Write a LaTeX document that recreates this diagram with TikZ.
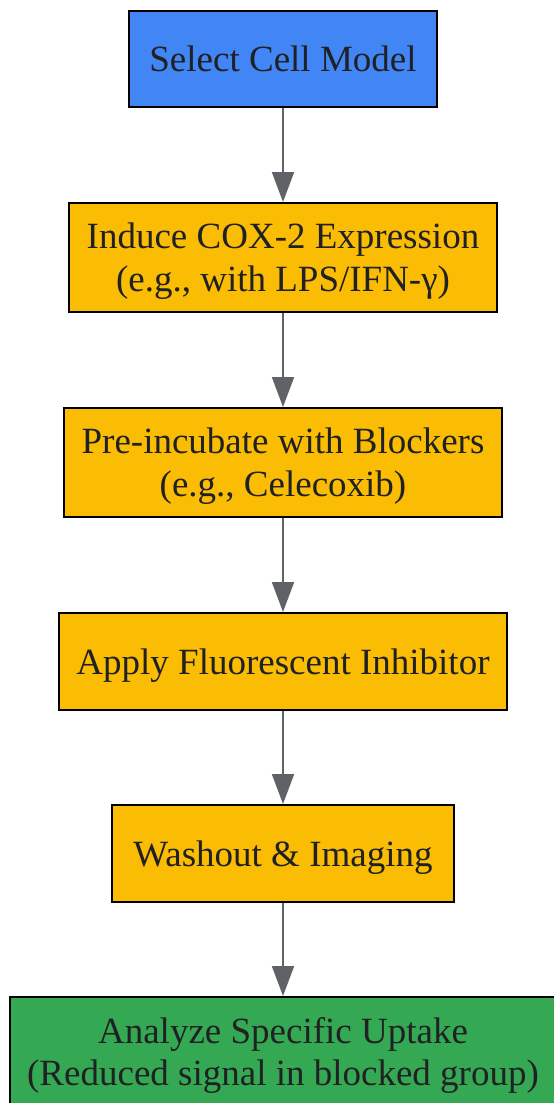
\documentclass[tikz,border=0pt]{standalone}
\usepackage{fontspec}
\setmainfont{Liberation Serif}
\usetikzlibrary{arrows.meta}
\definecolor{gblue}{HTML}{4285F4}
\definecolor{gyellow}{HTML}{FBBC04}
\definecolor{ggreen}{HTML}{34A853}
\definecolor{gtext}{HTML}{202124}
\definecolor{garrow}{HTML}{5F6368}
\newcommand{\sx}{\rule[-8.1pt]{0pt}{41.3pt}}
\tikzset{
  stepbox/.style={draw=black, line width=2pt, inner sep=0pt, align=center,
    text=gtext, font=\fontsize{37}{42.5}\selectfont},
  flow/.style={draw=garrow, line width=2pt, -{Triangle[length=30pt,width=22pt]}}
}
\begin{document}
\begin{tikzpicture}[x=1pt,y=-1pt]
\useasboundingbox (0,0) rectangle (554,1103);
\clip (0,0) rectangle (554,1103);
\node[stepbox, fill=gblue, minimum width=308pt, minimum height=96pt] (b1) at (283,59) {\sx Select Cell Model};
\node[stepbox, fill=gyellow, minimum width=428pt, minimum height=109pt] (b2) at (283,257.5) {\sx Induce COX-2 Expression\\\sx (e.g., with LPS/IFN-γ)};
\node[stepbox, fill=gyellow, minimum width=438pt, minimum height=109pt] (b3) at (283,462.5) {\sx Pre-incubate with Blockers\\\sx (e.g., Celecoxib)};
\node[stepbox, fill=gyellow, minimum width=448pt, minimum height=97pt] (b4) at (283,661.5) {\sx Apply Fluorescent Inhibitor};
\node[stepbox, fill=gyellow, minimum width=342pt, minimum height=97pt] (b5) at (283,853.5) {\sx Washout \& Imaging};
\node[stepbox, fill=ggreen, minimum width=546pt, minimum height=110pt] (b6) at (283,1052) {\sx Analyze Specific Uptake\\\sx (Reduced signal in blocked group)};
\draw[flow] (b1) -- (b2);
\draw[flow] (b2) -- (b3);
\draw[flow] (b3) -- (b4);
\draw[flow] (b4) -- (b5);
\draw[flow] (b5) -- (b6);
\end{tikzpicture}
\end{document}
